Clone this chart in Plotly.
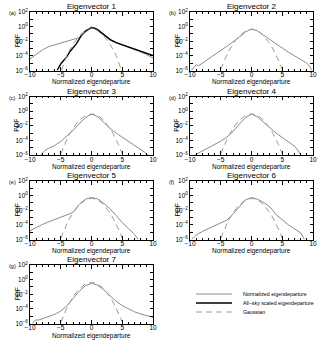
import numpy as np
import plotly.graph_objects as go

# ---------------- data (PDF values as log10) ----------------
panel_titles = ["Eigenvector 1", "Eigenvector 2", "Eigenvector 3", "Eigenvector 4",
                "Eigenvector 5", "Eigenvector 6", "Eigenvector 7"]
panel_labels = ["(a)", "(b)", "(c)", "(d)", "(e)", "(f)", "(g)"]
x_title = "Normalized eigendeparture"
y_title = "PDF"
legend_names = ["Normalized eigendeparture", "All\u2212sky scaled eigendeparture", "Gaussian"]

ev1_x = [-10, -9, -8, -7, -6, -5, -4, -3, -2, -1, 0, 1, 2, 3, 4, 5, 6, 7, 8, 9, 10]
ev1_log = [-4.4, -3.8, -3.2, -2.75, -2.5, -2.3, -2.05, -1.85, -1.5, -0.8, -0.15, -0.45,
           -1.2, -1.85, -2.2, -2.5, -2.8, -3.1, -3.45, -3.85, -4.3]

allsky_x = [-5.6, -5, -4.5, -4, -3.5, -3, -2.5, -2, -1.5, -1, -0.5, 0, 0.5, 1, 1.5, 2,
            3, 4, 5, 6, 7, 8, 9, 10]
allsky_log = [-6.0, -5.1, -4.6, -4.1, -3.4, -2.9, -2.4, -1.7, -1.0, -0.6, -0.3, -0.12,
              -0.2, -0.4, -0.75, -1.1, -1.75, -2.2, -2.5, -2.8, -3.05, -3.35, -3.65, -3.95]

gauss1_x = [-4.9, -4, -3, -2, -1, 0, 1, 2, 3, 4, 4.9]
gauss1_log = [-6.0, -3.9, -2.4, -1.3, -0.6, 0.0, -0.6, -1.3, -2.4, -3.9, -6.0]

ev2_x = [-9.8, -9.4, -9, -8.6, -8, -7, -6, -5, -4, -3, -2, -1, 0, 1, 2, 3, 4, 5, 6, 7,
         8, 9, 9.5, 9.8]
ev2_log = [-6.0, -5.6, -5.2, -5.35, -5.0, -4.5, -3.95, -3.35, -2.75, -2.1, -1.45, -0.75,
           -0.3, -0.6, -1.2, -1.8, -2.35, -2.9, -3.5, -4.0, -4.55, -5.0, -5.5, -6.0]

ev3_x = [-8.2, -7.6, -7, -6, -5, -4, -3, -2, -1, 0, 1, 2, 3, 4, 5, 6, 7, 8, 8.6, 9.2]
ev3_log = [-6.0, -5.4, -5.1, -4.7, -4.15, -3.45, -2.65, -1.75, -0.9, -0.4, -0.75, -1.55,
           -2.35, -3.0, -3.55, -4.1, -4.65, -5.2, -5.6, -6.0]

ev4_x = [-9.2, -8.5, -8, -7, -6, -5, -4, -3, -2, -1, 0, 1, 2, 3, 4, 5, 6, 7, 7.5, 8]
ev4_log = [-6.0, -5.7, -5.4, -4.95, -4.55, -4.1, -3.55, -2.8, -1.8, -0.9, -0.4, -0.8,
           -1.55, -2.3, -3.0, -3.6, -4.15, -4.8, -5.3, -6.0]

ev5_x = [-10, -9, -8, -7, -6, -5, -4, -3, -2, -1, 0, 1, 2, 3, 4, 5, 6, 7, 7.6]
ev5_log = [-4.8, -4.35, -3.95, -3.6, -3.3, -3.0, -2.7, -2.3, -1.2, -0.5, -0.25, -0.45,
           -1.05, -1.8, -2.7, -3.7, -4.5, -5.3, -6.0]

ev6_x = [-9.7, -9, -8, -7, -6, -5, -4, -3, -2, -1, 0, 1, 2, 3, 4, 5, 6, 7, 8, 8.6]
ev6_log = [-6.0, -5.4, -4.9, -4.5, -4.1, -3.7, -3.35, -2.5, -1.5, -0.6, -0.25, -0.5,
           -0.95, -1.55, -2.6, -3.35, -4.0, -4.55, -5.1, -6.0]

ev7_x = [-9.6, -9.2, -8.5, -8, -7, -6, -5, -4, -3, -2, -1, 0, 1, 2, 3, 4, 5, 6, 7, 8, 9, 10]
ev7_log = [-6.0, -5.55, -5.5, -5.35, -5.1, -4.75, -4.3, -3.6, -2.6, -1.6, -0.85, -0.5,
           -0.75, -1.4, -2.2, -2.95, -3.55, -4.0, -4.4, -4.7, -4.95, -5.15]

gauss_x = [-5, -4.5, -4, -3.5, -3, -2.5, -2, -1.5, -1, -0.5, 0, 0.5, 1, 1.5, 2, 2.5, 3,
           3.5, 4, 4.5, 5]
gauss_pdf = [1.5e-6, 1.6e-5, 1.34e-4, 8.7e-4, 4.4e-3, 1.75e-2, 5.4e-2, 0.13, 0.24, 0.35,
             0.40, 0.35, 0.24, 0.13, 5.4e-2, 1.75e-2, 4.4e-3, 8.7e-4, 1.34e-4, 1.6e-5, 1.5e-6]

x_tickvals = [-10, -5, 0, 5, 10]
x_ticktext = ["\u221210", "\u22125", "0", "5", "10"]
y_tickvals = [1e-6, 1e-5, 1e-4, 1e-3, 1e-2, 1e-1, 1, 10, 100]
y_ticktext = ["10<sup>\u22126</sup>", "", "10<sup>\u22124</sup>", "", "10<sup>\u22122</sup>",
              "", "10<sup>0</sup>", "", "10<sup>2</sup>"]

gray_series = [(ev1_x, ev1_log), (ev2_x, ev2_log), (ev3_x, ev3_log), (ev4_x, ev4_log),
               (ev5_x, ev5_log), (ev6_x, ev6_log), (ev7_x, ev7_log)]

# ---------------- layout geometry ----------------
W, H = 320, 342
col_left = [30, 190]
plot_w = 123
row_top = [12, 96.5, 181, 265]
plot_h = 58.5
FONT = "Liberation Sans, Arial, sans-serif"
GRAY = "#8a8a8a"
DGRAY = "#9a9a9a"
PAD = "\u00a0" * 4

fig = go.Figure()
layout = dict(width=W, height=H, margin=dict(l=0, r=0, t=0, b=0, autoexpand=False),
              paper_bgcolor="white", plot_bgcolor="white",
              font=dict(family=FONT, size=6, color="black"))
annotations = []

for i in range(7):
    r, c = divmod(i, 2)
    n = "" if i == 0 else str(i + 1)
    x0 = col_left[c] / W
    x1 = (col_left[c] + plot_w) / W
    y1 = (H - row_top[r]) / H
    y0 = (H - row_top[r] - plot_h) / H
    xa, ya = "x" + n, "y" + n
    gx, glog = gray_series[i]
    fig.add_trace(go.Scatter(x=gx, y=10 ** np.array(glog), mode="lines",
                             line=dict(color=GRAY, width=1),
                             name=PAD + legend_names[0],
                             showlegend=(i == 0), legend="legend",
                             xaxis=xa, yaxis=ya))
    if i == 0:
        fig.add_trace(go.Scatter(x=allsky_x, y=10 ** np.array(allsky_log), mode="lines",
                                 line=dict(color="black", width=1.4),
                                 name=PAD + legend_names[1],
                                 showlegend=True, legend="legend2",
                                 xaxis=xa, yaxis=ya))
        fig.add_trace(go.Scatter(x=gauss1_x, y=10 ** np.array(gauss1_log), mode="lines",
                                 line=dict(color=DGRAY, width=1, dash="6px,4px"),
                                 name=PAD + legend_names[2], showlegend=True,
                                 legend="legend3", xaxis=xa, yaxis=ya))
    else:
        fig.add_trace(go.Scatter(x=gauss_x, y=gauss_pdf, mode="lines",
                                 line=dict(color=DGRAY, width=1, dash="6px,4px"),
                                 showlegend=False, xaxis=xa, yaxis=ya))
    layout["xaxis" + n] = dict(
        domain=[x0, x1], anchor=ya, range=[-10, 10], automargin=False,
        tickvals=x_tickvals, ticktext=x_ticktext, ticks="inside", ticklen=4,
        tickwidth=0.8, tickcolor="black", ticklabelstandoff=-2,
        minor=dict(dtick=1, ticks="inside", ticklen=2, tickwidth=0.8, tickcolor="black"),
        showline=True, linecolor="black", linewidth=0.8, mirror="allticks",
        showgrid=False, zeroline=False, tickfont=dict(size=6.5))
    layout["yaxis" + n] = dict(
        domain=[y0, y1], anchor=xa, type="log", range=[-6, 2], automargin=False,
        tickvals=y_tickvals, ticktext=y_ticktext, ticks="inside", ticklen=3,
        tickwidth=0.8, tickcolor="black",
        showline=True, linecolor="black", linewidth=0.8, mirror="allticks",
        showgrid=False, zeroline=False, tickfont=dict(size=6.5))
    annotations.append(dict(text=panel_titles[i], xref="paper", yref="paper",
                            x=(x0 + x1) / 2, y=y1, yshift=-1, xanchor="center",
                            yanchor="bottom", showarrow=False, font=dict(size=8)))
    annotations.append(dict(text=panel_labels[i], xref="paper", yref="paper",
                            x=(col_left[c] - 23) / W, y=y1, yshift=-1, xanchor="left",
                            yanchor="middle", showarrow=False, font=dict(size=5.5)))
    annotations.append(dict(text=x_title, xref="paper", yref="paper",
                            x=(x0 + x1) / 2, y=y0, yshift=-12, xanchor="center",
                            yanchor="middle", showarrow=False, font=dict(size=6.5)))
    annotations.append(dict(text=y_title, xref="paper", yref="paper",
                            x=(col_left[c] - 13) / W, y=(y0 + y1) / 2, textangle=-90,
                            xanchor="center", yanchor="middle", showarrow=False,
                            font=dict(size=6.5)))

leg_x = 191 / W
for k, yy in zip(["legend", "legend2", "legend3"], [294, 303, 312]):
    layout[k] = dict(x=leg_x, y=(H - yy) / H, xanchor="left", yanchor="middle",
                     bgcolor="rgba(0,0,0,0)", font=dict(size=5.3), itemwidth=36,
                     tracegroupgap=0)
layout["annotations"] = annotations
fig.update_layout(**layout)
fig.write_html("out.html", config={"displayModeBar": False},
               post_script="document.body.style.margin='0';document.body.style.padding='0';")
